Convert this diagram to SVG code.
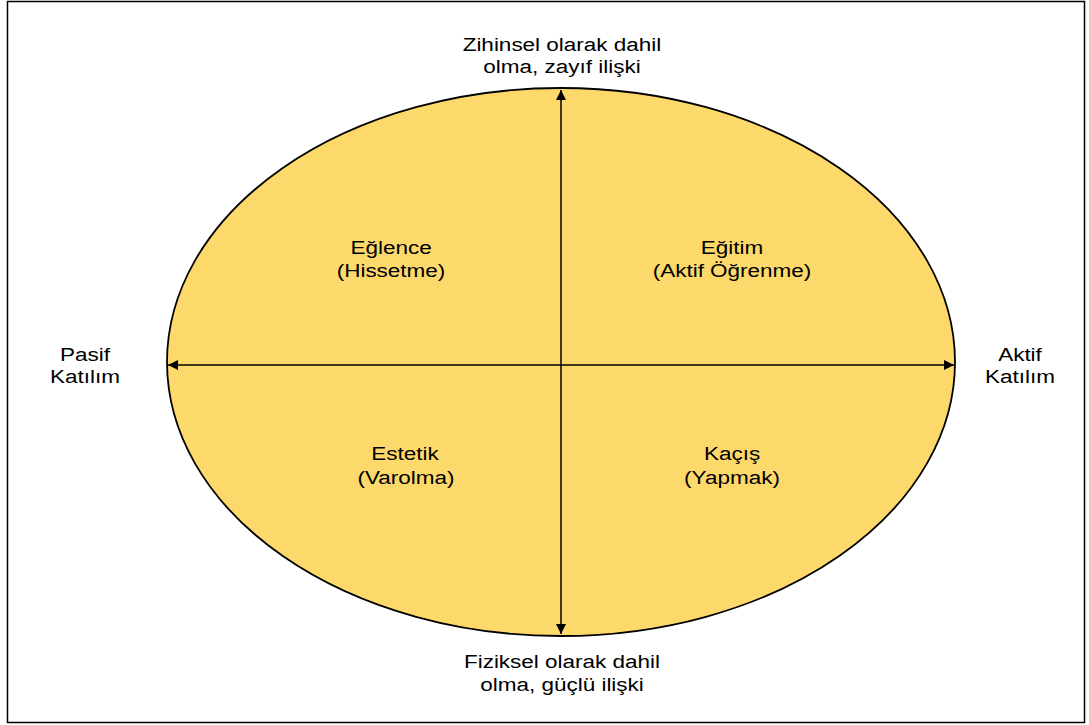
<svg xmlns="http://www.w3.org/2000/svg" width="1089" height="725" viewBox="0 0 1089 725">
  <style>
    text { font-family: "Liberation Sans", Arial, sans-serif; font-size: 18px; fill: #000; text-anchor: middle; }
    .axis { stroke: #000; stroke-width: 1.5; fill: none; }
  </style>
  <defs>
    <marker id="arrow" viewBox="0 0 10 10" refX="10" refY="5" markerWidth="10" markerHeight="10" markerUnits="userSpaceOnUse" orient="auto-start-reverse">
      <path d="M0,0 L10,5 L0,10 z" fill="#000"/>
    </marker>
  </defs>
  <rect x="7.5" y="1.5" width="1077" height="721" fill="#fff" stroke="#000" stroke-width="1.5"/>
  <g id="ellipse">
    <ellipse cx="561" cy="362" rx="394" ry="274" fill="#FDD96B" stroke="#000" stroke-width="1.8"/>
  </g>
  <g id="connectors">
    <line class="axis" x1="561" y1="90" x2="561" y2="634" marker-start="url(#arrow)" marker-end="url(#arrow)"/>
    <line class="axis" x1="168" y1="365" x2="954" y2="365" marker-start="url(#arrow)" marker-end="url(#arrow)"/>
  </g>
  <!-- labels are widened horizontally around their centre -->
  <g id="top-label">
    <text transform="translate(562 51) scale(1.25 1)">Zihinsel olarak dahil</text>
    <text transform="translate(562 73) scale(1.25 1)">olma, zayıf ilişki</text>
  </g>
  <g id="bottom-label">
    <text transform="translate(562 668) scale(1.25 1)">Fiziksel olarak dahil</text>
    <text transform="translate(562 691) scale(1.25 1)">olma, güçlü ilişki</text>
  </g>
  <g id="left-label">
    <text transform="translate(85 361) scale(1.25 1)">Pasif</text>
    <text transform="translate(85 383) scale(1.25 1)">Katılım</text>
  </g>
  <g id="right-label">
    <text transform="translate(1020 361) scale(1.25 1)">Aktif</text>
    <text transform="translate(1020 383) scale(1.25 1)">Katılım</text>
  </g>
  <g id="eglence">
    <text transform="translate(391 254) scale(1.25 1)">Eğlence</text>
    <text transform="translate(391 277) scale(1.25 1)">(Hissetme)</text>
  </g>
  <g id="egitim">
    <text transform="translate(732 254) scale(1.25 1)">Eğitim</text>
    <text transform="translate(732 277) scale(1.25 1)">(Aktif Öğrenme)</text>
  </g>
  <g id="estetik">
    <text transform="translate(405 460) scale(1.25 1)">Estetik</text>
    <text transform="translate(406 484) scale(1.25 1)">(Varolma)</text>
  </g>
  <g id="kacis">
    <text transform="translate(732 460) scale(1.25 1)">Kaçış</text>
    <text transform="translate(732 484) scale(1.25 1)">(Yapmak)</text>
  </g>
</svg>
